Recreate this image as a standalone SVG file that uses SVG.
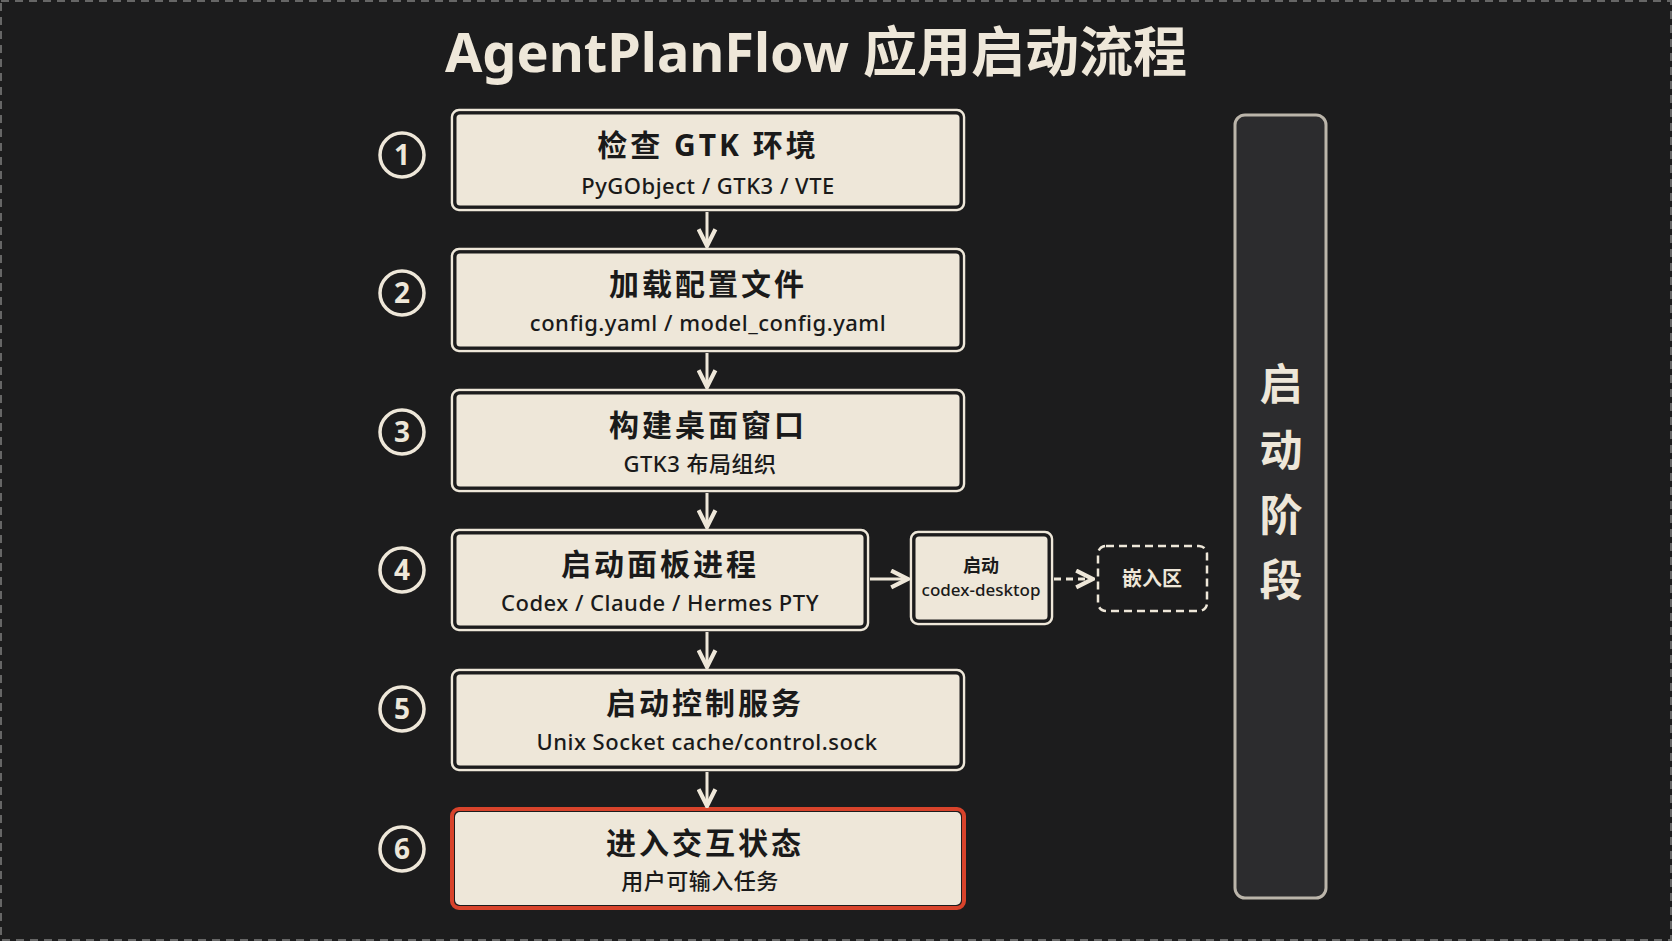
<svg xmlns="http://www.w3.org/2000/svg" width="1672" height="941" viewBox="0 0 1672 941">
<style>
.t{font-family:"Noto Sans","Noto Sans CJK SC",sans-serif;fill:#1a1a1a;text-anchor:middle}
.h{font-size:30px;font-weight:bold;letter-spacing:3px}
.s{font-size:22px;font-weight:500;letter-spacing:0.5px}
.box{fill:#eee7d9;stroke:#1c1c1d;stroke-width:3}
.o{fill:none;stroke:#eee7d9;stroke-width:2.5}
.c{fill:none;stroke:#eee7d9;stroke-width:3.5}
.n{font-family:"Noto Sans",sans-serif;font-size:28px;fill:#eee7d9;text-anchor:middle;font-weight:bold}
.ln{stroke:#eee7d9;stroke-width:3;fill:none}
</style>
<defs>
<marker id="a" viewBox="0 0 10 10" refX="9" refY="5" markerWidth="7" markerHeight="7" orient="auto"><path d="M1 1L9 5L1 9" fill="none" stroke="#eee7d9" stroke-width="2"/></marker>
</defs>
<rect width="1672" height="941" fill="#1c1c1d"/>
<rect x="1" y="1" width="1670" height="939" fill="none" stroke="#666" stroke-width="2" stroke-dasharray="8 6"/>
<text x="816" y="72" font-family="Noto Sans,Noto Sans CJK SC,sans-serif" font-size="54" font-weight="bold" fill="#eee7d9" text-anchor="middle">AgentPlanFlow 应用启动流程</text>
<g id="n1"><rect class="o" x="452" y="110" width="512" height="100" rx="7"/><rect class="box" x="455" y="113" width="506" height="94" rx="5"/><circle class="c" cx="402" cy="155" r="22"/><text class="n" x="402" y="165">1</text><text class="t h" x="708" y="156">检查 GTK 环境</text><text class="t s" x="708" y="194">PyGObject / GTK3 / VTE</text></g>
<g id="n2"><rect class="o" x="452" y="249" width="512" height="102" rx="7"/><rect class="box" x="455" y="252" width="506" height="96" rx="5"/><circle class="c" cx="402" cy="293" r="22"/><text class="n" x="402" y="303">2</text><text class="t h" x="708" y="295">加载配置文件</text><text class="t s" x="708" y="331">config.yaml / model_config.yaml</text></g>
<g id="n3"><rect class="o" x="452" y="390" width="512" height="101" rx="7"/><rect class="box" x="455" y="393" width="506" height="95" rx="5"/><circle class="c" cx="402" cy="432" r="22"/><text class="t h" x="708" y="436">构建桌面窗口</text><text class="n" x="402" y="442">3</text><text class="t s" x="700" y="472">GTK3 布局组织</text></g>
<g id="n4"><rect class="o" x="452" y="530" width="416" height="100" rx="7"/><rect class="box" x="455" y="533" width="410" height="94" rx="5"/><circle class="c" cx="402" cy="570" r="22"/><text class="n" x="402" y="580">4</text><text class="t h" x="660" y="575">启动面板进程</text><text class="t s" x="660" y="611">Codex / Claude / Hermes PTY</text></g>
<g id="n5"><rect class="o" x="452" y="670" width="512" height="100" rx="7"/><rect class="box" x="455" y="673" width="506" height="94" rx="5"/><circle class="c" cx="402" cy="709" r="22"/><text class="n" x="402" y="719">5</text><text class="t h" x="705" y="714">启动控制服务</text><text class="t s" x="707" y="750">Unix Socket cache/control.sock</text></g>
<g id="n6"><rect x="452" y="809" width="512" height="99" rx="7" fill="none" style="stroke:#d8432b;stroke-width:4"/><rect class="box" x="455" y="812" width="506" height="93" rx="5" style="stroke:none"/><circle class="c" cx="402" cy="849" r="22"/><text class="n" x="402" y="859">6</text><text class="t h" x="705" y="854">进入交互状态</text><text class="t s" x="700" y="889">用户可输入任务</text></g>
<g id="n7"><rect class="o" x="911" y="532" width="141" height="92" rx="7"/><rect class="box" x="914" y="535" width="135" height="86" rx="5"/><text class="t" x="981" y="572" font-size="18" font-weight="bold">启动</text><text class="t" x="981" y="596" font-size="17" font-weight="500">codex-desktop</text></g>
<g id="n8"><rect x="1098" y="546" width="109" height="65" rx="8" fill="none" stroke="#eee7d9" stroke-width="2.5" stroke-dasharray="8 5"/><text class="t" x="1152" y="586" font-size="20" style="fill:#eee7d9" font-weight="bold">嵌入区</text></g>
<g id="n9"><rect x="1235" y="115" width="91" height="783" rx="10" fill="#2c2c2e" stroke="#bbb5aa" stroke-width="3"/>
<g font-family="Noto Sans CJK SC,sans-serif" font-size="43" font-weight="bold" fill="#eee7d9" text-anchor="middle"><text x="1281" y="400">启</text><text x="1281" y="466">动</text><text x="1281" y="531">阶</text><text x="1281" y="596">段</text></g></g>
<g id="edges">
<path class="ln" d="M707 212V246" marker-end="url(#a)"/>
<path class="ln" d="M707 353V387" marker-end="url(#a)"/>
<path class="ln" d="M707 493V527" marker-end="url(#a)"/>
<path class="ln" d="M707 632V667" marker-end="url(#a)"/>
<path class="ln" d="M707 772V806" marker-end="url(#a)"/>
<path class="ln" d="M870 579H908" marker-end="url(#a)"/>
<path class="ln" d="M1054 579H1093" stroke-dasharray="7 5" marker-end="url(#a)"/>
</g>
</svg>
